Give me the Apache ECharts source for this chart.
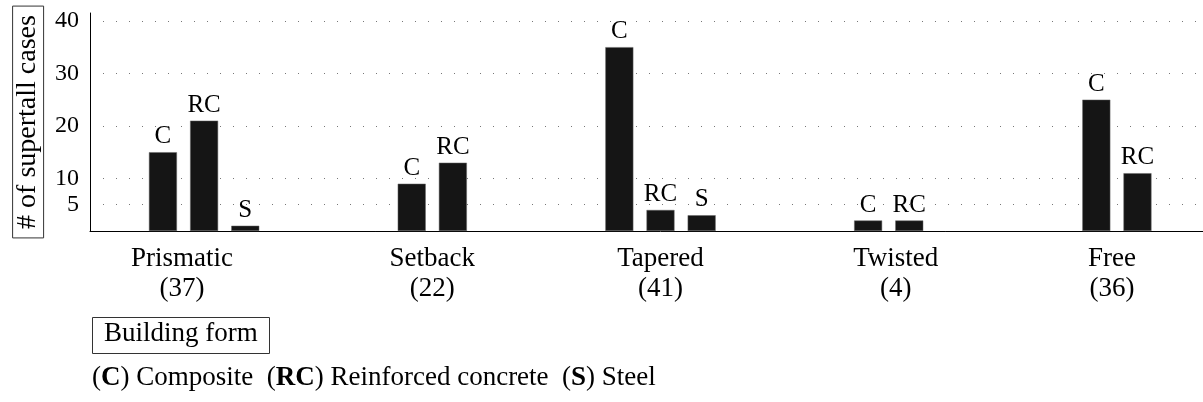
<!DOCTYPE html>
<html>
<head>
<meta charset="utf-8">
<script src="https://cdn.jsdelivr.net/npm/echarts@6/dist/echarts.min.js"></script>
<style>
html, body { margin: 0; padding: 0; background: #fff; overflow: hidden; }
/* wider than the window: the x axis runs on past the right edge like the original */
#main { width: 1231px; height: 402px; }
</style>
</head>
<body>
<div id="main"></div>
<script>
// building forms and number of supertall cases per structural material
var forms = ["Prismatic", "Setback", "Tapered", "Twisted", "Free"];
var totals = [37, 22, 41, 4, 36];
var composite = [15, 9, 35, 2, 25];
var reinforced = [21, 13, 4, 2, 11];
var steel = [1, 0, 3, 0, 0];
var yTicks = [5, 10, 20, 30, 40];

var serif = "Liberation Serif";

// small shifts so the labels sit where the original put them
var labelShift = [-22, 0, 0, 7, -5];

var catData = forms.map(function (f, i) {
  var s = labelShift[i];
  return {
    value: f + "\n(" + totals[i] + ")",
    textStyle: { padding: s < 0 ? [0, -2 * s, 0, 0] : [0, 0, 0, 2 * s] }
  };
});

// groups with a steel bar use axis 0 (3 bars), others axis 1 (2 bars, centred)
function pick(arr, three) {
  return arr.map(function (v, i) {
    return (steel[i] > 0) === three ? v : "-";
  });
}

var barLabel = function (txt) {
  return {
    show: true,
    position: "top",
    distance: 3,
    formatter: txt,
    color: "#000",
    fontFamily: serif,
    fontSize: 25
  };
};

var barStyle = { color: "#151515", borderColor: "#666", borderWidth: 0.5 };

function bar(name, txt, data, axis) {
  return {
    name: name,
    type: "bar",
    xAxisIndex: axis,
    barWidth: 28,
    barGap: "47%",
    data: data,
    itemStyle: barStyle,
    label: barLabel(txt)
  };
}

var chart = echarts.init(document.getElementById("main"));

chart.setOption({
  animation: false,
  title: [
    {
      text: "Building form",
      left: 92,
      top: 317,
      borderColor: "#333",
      borderWidth: 1,
      padding: [1, 12, 5, 12],
      textStyle: {
        fontFamily: serif,
        fontSize: 27,
        fontWeight: "normal",
        lineHeight: 31,
        color: "#000"
      }
    },
    {
      text: "({b|C}) Composite  ({b|RC}) Reinforced concrete  ({b|S}) Steel",
      left: 92,
      top: 363,
      padding: 0,
      textStyle: {
        fontFamily: serif,
        fontSize: 27,
        fontWeight: "normal",
        lineHeight: 30,
        color: "#000",
        rich: {
          b: { fontFamily: serif, fontSize: 27, fontWeight: "bold", color: "#000" }
        }
      }
    }
  ],
  grid: { left: 90, top: 13, right: 0, height: 218 },
  xAxis: [
    {
      type: "category",
      data: catData,
      axisLine: { lineStyle: { color: "#000", width: 1 } },
      axisTick: { show: false },
      axisLabel: {
        color: "#000",
        fontFamily: serif,
        fontSize: 27,
        lineHeight: 30,
        margin: 13
      }
    },
    {
      type: "category",
      data: forms,
      show: false
    }
  ],
  yAxis: {
    type: "value",
    min: 0,
    max: 41.5,
    name: "# of supertall cases",
    nameLocation: "middle",
    nameRotate: 90,
    nameGap: 46,
    nameTextStyle: {
      fontFamily: serif,
      fontSize: 28,
      lineHeight: 29,
      color: "#000",
      borderColor: "#333",
      borderWidth: 1,
      padding: [1, 9, 1, 9]
    },
    axisLine: { show: true, lineStyle: { color: "#000", width: 1 } },
    axisTick: { show: false, customValues: yTicks },
    axisLabel: {
      customValues: yTicks,
      color: "#000",
      fontFamily: serif,
      fontSize: 24,
      margin: 11
    },
    splitLine: {
      show: true,
      lineStyle: { color: "#777", width: 1, type: [1, 12] }
    }
  },
  series: [
    bar("Composite", "C", pick(composite, true), 0),
    bar("Reinforced concrete", "RC", pick(reinforced, true), 0),
    bar("Steel", "S", pick(steel, true), 0),
    bar("Composite ", "C", pick(composite, false), 1),
    bar("Reinforced concrete ", "RC", pick(reinforced, false), 1)
  ]
});
</script>
</body>
</html>
